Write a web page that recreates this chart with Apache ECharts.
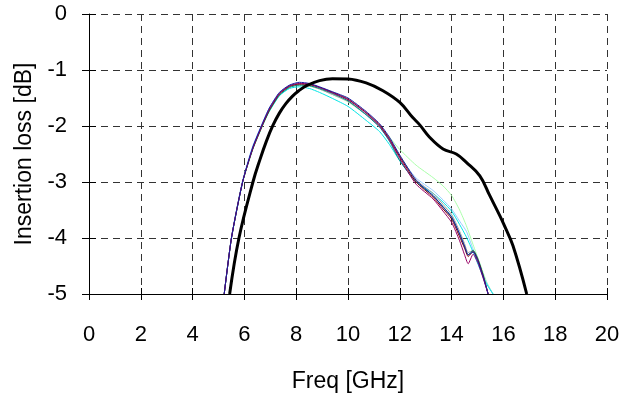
<!DOCTYPE html>
<html><head><meta charset="utf-8">
<script src="https://cdn.jsdelivr.net/npm/echarts@6/dist/echarts.min.js"></script>
<style>html,body{margin:0;padding:0;background:#fff}#c{width:636px;height:398px}</style>
</head><body><div id="c"></div>
<script>
// ---- data ----
const xTicks = [0, 2, 4, 6, 8, 10, 12, 14, 16, 18, 20];
const yTicks = [0, -1, -2, -3, -4, -5];

// measured device (thick black)
const freqRef = [5.43, 5.79, 6.33, 6.6, 6.85, 7.1, 7.35, 7.6, 7.85, 8.1, 8.4, 8.9, 9.4, 10.0, 10.7, 11.35, 12.0, 12.5, 12.77, 13.15, 13.67, 14.18, 14.57, 15.09, 15.47, 15.86, 16.0, 16.37, 16.9];
const lossRef = [-5, -4, -3, -2.6, -2.27, -1.99, -1.77, -1.6, -1.47, -1.37, -1.28, -1.19, -1.155, -1.16, -1.23, -1.37, -1.58, -1.85, -1.98, -2.2, -2.41, -2.5, -2.65, -2.89, -3.24, -3.6, -3.74, -4.14, -5];

// dark cluster frequencies
const freqA = [5.22, 5.5, 5.93, 6.32, 6.7, 6.96, 7.35, 7.74, 8.12, 8.51, 8.9, 9.41, 10.0, 10.7, 11.22, 11.6, 12.0, 12.63, 13.28, 13.67, 14.0, 14.31, 14.5, 14.64, 14.83, 15.02, 15.22, 15.41];
const lossNavy   = [-5, -4, -3, -2.38, -1.95, -1.68, -1.40, -1.27, -1.22, -1.24, -1.30, -1.39, -1.50, -1.74, -1.96, -2.20, -2.52, -2.97, -3.24, -3.45, -3.63, -3.93, -4.15, -4.30, -4.25, -4.42, -4.70, -5];
const lossPurple = [-5, -4, -3, -2.40, -1.97, -1.70, -1.42, -1.28, -1.24, -1.25, -1.31, -1.41, -1.53, -1.77, -2.00, -2.25, -2.58, -3.04, -3.30, -3.52, -3.72, -4.05, -4.30, -4.46, -4.29, -4.45, -4.72, -5];
const lossRed    = [-5, -4, -3, -2.41, -1.98, -1.72, -1.43, -1.29, -1.25, -1.26, -1.31, -1.40, -1.52, -1.76, -1.98, -2.23, -2.55, -3.00, -3.27, -3.48, -3.66, -3.98, -4.18, -4.33, -4.24, -4.40, -4.68, -5];
const lossTeal   = [-5, -4, -3, -2.42, -1.99, -1.73, -1.45, -1.31, -1.27, -1.28, -1.33, -1.42, -1.55, -1.80, -2.02, -2.27, -2.62, -3.00, -3.24, -3.44, -3.62, -3.93, -4.15, -4.30, -4.22, -4.38, -4.66, -5];
const lossGray   = [-5, -4, -3, -2.39, -1.96, -1.70, -1.43, -1.30, -1.26, -1.28, -1.34, -1.44, -1.56, -1.79, -2.00, -2.24, -2.53, -2.96, -3.20, -3.40, -3.58, -3.88, -4.10, -4.26, -4.22, -4.38, -4.66, -5];

// light cluster frequencies
const freqB = [5.22, 5.5, 5.93, 6.32, 6.7, 6.96, 7.35, 7.74, 8.12, 8.51, 8.9, 9.41, 10.0, 10.7, 11.22, 11.6, 12.0, 12.63, 13.28, 13.67, 14.0, 14.31, 14.57, 14.83, 15.09, 15.35, 15.6];
const lossCyan   = [-5, -4, -3, -2.40, -1.98, -1.74, -1.46, -1.33, -1.30, -1.33, -1.40, -1.51, -1.65, -1.90, -2.10, -2.33, -2.62, -3.00, -3.20, -3.36, -3.52, -3.76, -3.98, -4.25, -4.55, -4.82, -5];
const lossLtBlue = [-5, -3.98, -2.97, -2.36, -1.94, -1.68, -1.41, -1.28, -1.25, -1.27, -1.32, -1.42, -1.55, -1.80, -2.02, -2.26, -2.55, -2.93, -3.15, -3.32, -3.48, -3.70, -3.88, -4.20, -4.50, -4.80, -5];
const lossLtGreen= [-5, -4.02, -3.02, -2.42, -2.00, -1.74, -1.46, -1.31, -1.27, -1.29, -1.34, -1.44, -1.57, -1.80, -2.00, -2.20, -2.42, -2.70, -2.92, -3.07, -3.24, -3.50, -3.78, -4.12, -4.45, -4.78, -5];

const zip = (xs, ys) => xs.map((x, i) => [x, ys[i]]);

const thin = (name, xs, ys, color) => ({
  name, type: 'line', data: zip(xs, ys), symbol: 'none', smooth: 0.2,
  lineStyle: { width: 1, color }, itemStyle: { color }, z: 3
});

const FONT = 'Liberation Sans, Arial, sans-serif';
const chart = echarts.init(document.getElementById('c'), null, { renderer: 'canvas' });
chart.setOption({
  animation: false,
  backgroundColor: '#fff',
  grid: { left: 89, right: 29, top: 14, bottom: 102, containLabel: false },
  xAxis: [{
    type: 'value', min: 0, max: 20, interval: 2,
    name: 'Freq [GHz]', nameLocation: 'middle', nameGap: 76,
    nameTextStyle: { fontFamily: FONT, fontSize: 23, color: '#000' },
    axisLine: { show: true, onZero: false, lineStyle: { color: '#000', width: 1 } },
    axisTick: { show: true, inside: false, length: 6, lineStyle: { color: '#000' } },
    axisLabel: { fontFamily: FONT, fontSize: 22, color: '#000', margin: 30 },
    splitLine: { show: true, lineStyle: { color: '#333', type: [7, 5], width: 1 } }
  }, {
    type: 'value', min: 0, max: 20, interval: 2, position: 'bottom',
    axisLine: { show: false, onZero: false },
    axisTick: { show: true, inside: true, length: 6, lineStyle: { color: '#000' } },
    axisLabel: { show: false }, splitLine: { show: false }
  }],
  yAxis: [{
    type: 'value', min: -5, max: 0, interval: 1,
    name: 'Insertion loss [dB]', nameLocation: 'middle', nameGap: 52,
    nameTextStyle: { fontFamily: FONT, fontSize: 23, color: '#000' },
    axisLine: { show: true, onZero: false, lineStyle: { color: '#000', width: 1 } },
    axisTick: { show: true, inside: false, length: 7, lineStyle: { color: '#000' } },
    axisLabel: { fontFamily: FONT, fontSize: 22, color: '#000', margin: 22 },
    splitLine: { show: true, lineStyle: { color: '#333', type: [7, 5], width: 1 } }
  }, {
    type: 'value', min: -5, max: 0, interval: 1, position: 'left',
    axisLine: { show: false, onZero: false },
    axisTick: { show: true, inside: true, length: 7, lineStyle: { color: '#000' } },
    axisLabel: { show: false }, splitLine: { show: false }
  }],
  series: [
    thin('lightgreen', freqB, lossLtGreen, '#aaffaa'),
    thin('lightblue', freqB, lossLtBlue, '#99ccff'),
    thin('cyan', freqB, lossCyan, '#00e5e5'),
    thin('gray', freqA, lossGray, '#a0a0a0'),
    thin('teal', freqA, lossTeal, '#008080'),
    thin('darkred', freqA, lossRed, '#800000'),
    thin('purple', freqA, lossPurple, '#990066'),
    thin('navy', freqA, lossNavy, '#1a1aa0'),
    {
      name: 'ref', type: 'line', data: zip(freqRef, lossRef), symbol: 'none', smooth: 0.4,
      lineStyle: { width: 3, color: '#000' }, itemStyle: { color: '#000' }, z: 4
    }
  ]
});
</script></body></html>
